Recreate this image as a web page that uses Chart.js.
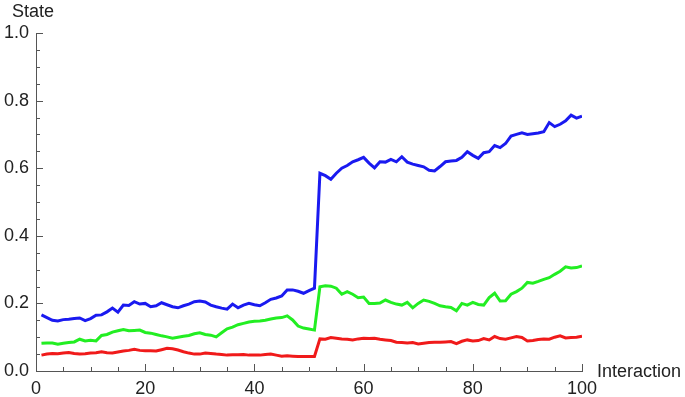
<!DOCTYPE html>
<html>
<head>
<meta charset="utf-8">
<script src="https://cdn.jsdelivr.net/npm/chart.js@4"></script>
<style>
  body { margin: 0; background: #fff; }
  #wrap { width: 685px; height: 397px; position: relative; }
</style>
</head>
<body>
<div id="wrap"><canvas id="stateChart"></canvas></div>
<script>
// Values
const interactions = [];
for (let i = 1; i <= 100; i++) interactions.push(i);

const blueState = [
  0.166, 0.158, 0.150, 0.148, 0.152, 0.153, 0.155, 0.157, 0.149, 0.155,
  0.165, 0.166, 0.175, 0.186, 0.174, 0.195, 0.194, 0.205, 0.198, 0.200,
  0.190, 0.193, 0.202, 0.196, 0.190, 0.187, 0.193, 0.198, 0.205, 0.207,
  0.204, 0.195, 0.190, 0.186, 0.183, 0.198, 0.187, 0.195, 0.200, 0.196,
  0.193, 0.202, 0.212, 0.216, 0.222, 0.240, 0.240, 0.236, 0.230, 0.238,
  0.245, 0.585, 0.578, 0.567, 0.585, 0.600, 0.608, 0.619, 0.625, 0.632,
  0.615, 0.601, 0.619, 0.618, 0.626, 0.619, 0.634, 0.618, 0.612, 0.608,
  0.604, 0.594, 0.592, 0.605, 0.619, 0.621, 0.623, 0.632, 0.649, 0.638,
  0.629, 0.646, 0.649, 0.667, 0.661, 0.673, 0.695, 0.700, 0.705, 0.700,
  0.702, 0.704, 0.708, 0.735, 0.723, 0.730, 0.740, 0.757, 0.748, 0.754
];

const greenState = [
  0.082, 0.083, 0.083, 0.079, 0.082, 0.084, 0.086, 0.094, 0.089, 0.091,
  0.089, 0.105, 0.108, 0.115, 0.119, 0.123, 0.119, 0.120, 0.121, 0.114,
  0.112, 0.108, 0.104, 0.101, 0.097, 0.100, 0.103, 0.105, 0.110, 0.113,
  0.108, 0.106, 0.101, 0.113, 0.125, 0.130, 0.137, 0.141, 0.145, 0.147,
  0.148, 0.150, 0.154, 0.157, 0.158, 0.163, 0.151, 0.133, 0.127, 0.124,
  0.121, 0.249, 0.252, 0.251, 0.245, 0.227, 0.235, 0.227, 0.217, 0.219,
  0.200, 0.200, 0.201, 0.210, 0.203, 0.198, 0.195, 0.203, 0.187, 0.200,
  0.210, 0.206, 0.200, 0.193, 0.190, 0.188, 0.178, 0.200, 0.195, 0.203,
  0.197, 0.195, 0.217, 0.230, 0.207, 0.208, 0.227, 0.235, 0.245, 0.262,
  0.260, 0.265, 0.271, 0.276, 0.286, 0.295, 0.308, 0.305, 0.306, 0.311
];

const redState = [
  0.047, 0.050, 0.052, 0.051, 0.053, 0.055, 0.052, 0.050, 0.051, 0.053,
  0.054, 0.057, 0.054, 0.053, 0.056, 0.059, 0.061, 0.064, 0.061, 0.060,
  0.060, 0.059, 0.063, 0.067, 0.066, 0.062, 0.057, 0.053, 0.050, 0.050,
  0.053, 0.052, 0.050, 0.049, 0.047, 0.048, 0.048, 0.049, 0.047, 0.047,
  0.047, 0.049, 0.050, 0.047, 0.044, 0.045, 0.044, 0.043, 0.043, 0.043,
  0.043, 0.095, 0.094, 0.099, 0.097, 0.095, 0.094, 0.092, 0.095, 0.097,
  0.096, 0.097, 0.094, 0.092, 0.090, 0.085, 0.084, 0.083, 0.084, 0.080,
  0.082, 0.084, 0.085, 0.085, 0.086, 0.087, 0.081, 0.088, 0.092, 0.089,
  0.090, 0.096, 0.092, 0.102, 0.096, 0.094, 0.098, 0.102, 0.099, 0.089,
  0.090, 0.093, 0.095, 0.094, 0.100, 0.104, 0.098, 0.099, 0.100, 0.103
];

const xTickStep = 20;
const yTickStep = 0.2;
const axisColor = '#555';
const textColor = '#222';
const font = { family: '"Liberation Sans", Arial, sans-serif', size: 18 };

function toPoints(values) {
  return values.map(function(v, i) { return { x: interactions[i], y: v }; });
}

// Inward tick marks (major + minor) and the axis captions
const axisDecor = {
  id: 'axisDecor',
  afterDraw: function(chart) {
    const ctx = chart.ctx;
    const xs = chart.scales.x;
    const ys = chart.scales.y;
    const area = chart.chartArea;
    ctx.save();
    ctx.strokeStyle = axisColor;
    ctx.lineWidth = 1;
    ctx.beginPath();
    for (let i = 0; i <= 20; i++) {
      const px = Math.round(xs.getPixelForValue(i * 5)) + 0.5;
      const len = (i % 4 === 0) ? 7 : 4;
      ctx.moveTo(px, area.bottom);
      ctx.lineTo(px, area.bottom - len);
    }
    for (let i = 0; i <= 20; i++) {
      const py = Math.round(ys.getPixelForValue(i / 20)) + 0.5;
      const len = (i % 4 === 0) ? 7 : 4;
      ctx.moveTo(area.left, py);
      ctx.lineTo(area.left + len, py);
    }
    ctx.stroke();

    ctx.fillStyle = textColor;
    ctx.font = font.size + 'px ' + font.family;
    ctx.textBaseline = 'alphabetic';
    ctx.textAlign = 'left';
    ctx.fillText('State', 12, 17);
    ctx.fillText('Interaction', 597, 377);
    ctx.restore();
  }
};

const ctx = document.getElementById('stateChart').getContext('2d');
new Chart(ctx, {
  type: 'line',
  data: {
    datasets: [
      { label: 'Blue', data: toPoints(blueState), borderColor: '#1a1af0' },
      { label: 'Green', data: toPoints(greenState), borderColor: '#22ee22' },
      { label: 'Red', data: toPoints(redState), borderColor: '#f01a1a' }
    ]
  },
  options: {
    responsive: true,
    maintainAspectRatio: false,
    animation: false,
    layout: { padding: { top: 33, right: 103, left: 0, bottom: 0 } },
    elements: {
      line: { borderWidth: 3, tension: 0, fill: false },
      point: { radius: 0 }
    },
    plugins: {
      legend: { display: false },
      tooltip: { enabled: false }
    },
    scales: {
      x: {
        type: 'linear',
        min: 0,
        max: 100,
        grid: { display: false, drawTicks: false },
        border: { display: true, color: axisColor, width: 1 },
        ticks: { stepSize: xTickStep, color: textColor, font: font, padding: 7, maxRotation: 0 },
        afterFit: function(scale) { scale.height = 26; }
      },
      y: {
        min: 0,
        max: 1,
        grid: { display: false, drawTicks: false },
        border: { display: true, color: axisColor, width: 1 },
        ticks: {
          stepSize: yTickStep,
          color: textColor,
          font: font,
          padding: 7,
          callback: function(v) { return Number(v).toFixed(1); }
        },
        afterFit: function(scale) { scale.width = 36; }
      }
    }
  },
  plugins: [axisDecor]
});
</script>
</body>
</html>
